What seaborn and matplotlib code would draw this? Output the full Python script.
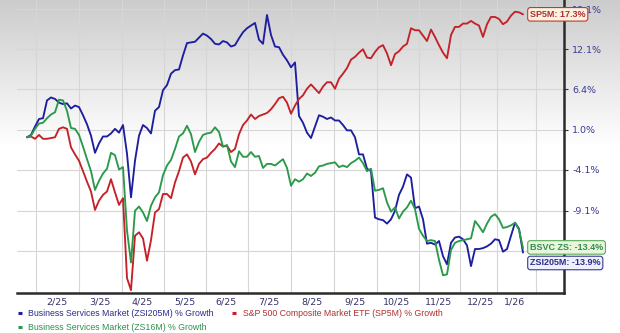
import numpy as np
import pandas as pd
import matplotlib
matplotlib.use("Agg")
import matplotlib.pyplot as plt
from matplotlib.lines import Line2D
import seaborn as sns

# ---------------- data (percent growth) ----------------
series_names = [
    "Business Services Market (ZSI205M) % Growth",
    "S&P 500 Composite Market ETF (SP5M) % Growth",
    "Business Services Market (ZS16M) % Growth",
]
blue_vals = [
    0.0, 0.3, 1.4, 2.4, 2.5, 4.9, 5.3, 5.1, 4.6, 4.4,
    4.5, 3.8, 4.2, 4.0, 2.9, 1.7, 0.2, -2.0, -0.8, 0.1,
    0.1, 0.5, 1.1, 0.6, 1.6, -2.1, -7.5, -3.0, 0.2, 1.6,
    1.2, 0.5, 3.5, 4.0, 6.3, 7.0, 8.6, 9.1, 9.2, 11.2,
    13.0, 13.1, 13.2, 13.8, 14.4, 14.1, 13.6, 12.9, 12.8, 13.3,
    13.1, 12.5, 12.7, 13.7, 14.6, 15.2, 15.6, 16.0, 13.5, 12.9,
    17.2, 14.2, 12.5, 12.4, 11.3, 10.5, 9.5, 10.2, 2.8, 1.9,
    0.6, -0.1, 1.4, 2.9, 2.7, 2.4, 2.6, 2.2, 2.2, 1.6,
    0.9, 0.9, 0.0, -2.2, -2.2, -4.0, -4.3, -9.9, -10.1, -10.2,
    -10.6, -10.1, -9.1, -7.2, -6.2, -4.7, -5.1, -8.8, -8.6, -10.1,
    -12.9, -12.8, -13.0, -12.6, -14.3, -15.2, -12.8, -12.2, -12.1, -12.4,
    -13.1, -15.4, -13.5, -13.5, -13.4, -13.2, -12.9, -12.4, -12.5, -13.8,
    -13.5, -12.0, -10.5, -11.2, -13.9,
]
red_vals = [
    0.0, 0.1, -0.2, 0.3, -0.2, -0.2, -0.1, 0.0, 1.1, 1.3,
    1.1, -1.3, -2.2, -3.0, -4.3, -5.6, -6.8, -9.0, -7.9, -7.2,
    -6.8, -5.3, -6.9, -8.4, -7.6, -16.7, -18.0, -12.0, -11.6, -12.3,
    -14.8, -12.5, -9.3, -8.9, -7.1, -7.1, -7.6, -5.7, -4.3, -2.6,
    -2.2, -3.1, -4.7, -3.4, -2.8, -2.6, -2.0, -1.5, -0.8, -1.2,
    -1.1, -1.9, -1.5, 0.4, 1.6, 2.2, 3.0, 2.4, 2.8, 3.0,
    3.2, 3.7, 4.4, 5.2, 5.4, 4.6, 3.1, 4.2, 5.1, 5.6,
    6.5, 7.1, 6.5, 5.9, 6.8, 7.4, 7.4, 6.5, 7.9, 8.6,
    9.4, 10.6, 11.0, 11.6, 12.1, 10.9, 10.8, 11.7, 12.4, 12.7,
    11.5, 9.8, 11.4, 11.8, 12.5, 12.9, 15.2, 14.9, 14.9, 14.1,
    13.3, 15.0, 13.9, 12.7, 11.6, 10.8, 14.2, 15.4, 15.4, 15.9,
    15.9, 16.3, 15.9, 15.6, 13.9, 15.8, 16.9, 16.9, 16.6, 15.8,
    16.2, 17.1, 17.7, 17.6, 17.3,
]
green_vals = [
    0.0, 0.2, 1.1, 1.8, 1.9, 2.5, 3.0, 3.3, 5.0, 4.9,
    3.5, 1.2, 1.1, 0.3, -1.2, -2.8, -4.3, -6.6, -5.5, -4.6,
    -4.0, -2.0, -2.3, -4.1, -3.8, -11.4, -15.0, -9.1, -8.6, -9.3,
    -10.3, -8.5, -7.5, -6.9, -4.8, -3.6, -2.9, -1.5, 0.1, 0.5,
    1.5, 0.4, -1.9, -0.6, 0.3, 0.5, 0.6, 1.3, 0.7, -1.2,
    -1.0, -3.1, -3.8, -1.8, -2.5, -2.5, -1.9, -2.5, -2.4, -3.9,
    -3.4, -3.4, -3.6, -3.2, -2.8, -3.9, -6.1, -5.3, -5.6, -5.3,
    -4.6, -4.9, -4.5, -3.7, -3.6, -3.4, -3.3, -3.2, -3.8, -3.6,
    -3.8, -3.3, -3.0, -2.6, -3.3, -4.3, -4.0, -6.7, -6.6, -6.4,
    -8.1, -9.2, -8.7, -10.0, -9.2, -8.7, -7.9, -8.9, -11.2, -12.0,
    -12.6, -12.5, -12.6, -14.7, -16.4, -16.3, -13.6, -12.8, -12.6, -12.5,
    -12.4, -12.3, -10.3, -10.9, -11.6, -10.6, -9.8, -9.5, -10.1, -11.1,
    -11.0, -10.8, -10.5, -11.3, -13.4,
]
end_tags = ["ZSI205M", "SP5M", "BSVC ZS"]
month_labels = ["2/25", "3/25", "4/25", "5/25", "6/25", "7/25",
                "8/25", "9/25", "10/25", "11/25", "12/25", "1/26"]
y_tick_values = [-13.7, -9.1, -4.1, 1.0, 6.4, 12.1, 18.1]
y_tick_labels = ["", "-9.1%", "-4.1%", "1.0%", "6.4%", "12.1%", "18.1%"]

colors = ["#1e1ea0", "#c42228", "#2a9a4a"]
text_colors = ["#2c2c8c", "#b03030", "#2f8f4f"]
box_faces = ["#eef0fb", "#fdf1e0", "#e9f5dc"]
box_edges = ["#3a3a99", "#c0392b", "#5aaa5a"]

# ---------------- layout helpers (pixel based) ----------------
W, H = 620, 333
px0, dpx = 27, 4.0                      # first sample pixel and spacing
def px_to_idx(p):
    return (p - px0) / dpx

month_grid_px = [36, 79, 122, 164, 206, 248, 291, 334, 377, 419, 460, 497, 536]
month_label_px = [57, 100, 142, 185, 226, 269, 312, 355, 397, 439, 481, 515]

n = len(blue_vals)
df = pd.DataFrame({
    "idx": np.tile(np.arange(n), 3),
    "growth": blue_vals + red_vals + green_vals,
    "series": np.repeat(series_names, n),
})

sns.set_theme(style="white")
plt.rcParams["font.family"] = ["DejaVu Sans"]

fig = plt.figure(figsize=(W / 100, H / 100), dpi=100)

# gradient background over whole figure
bg = fig.add_axes([0, 0, 1, 1], zorder=0)
rows = np.arange(H)
shade = np.where(rows < 145, 0.80 + (1.0 - 0.80) * rows / 145.0, 1.0)
img = np.repeat(shade[:, None, None], 3, axis=2)
bg.imshow(img, aspect="auto", extent=[0, 1, 0, 1], transform=bg.transAxes)
bg.set_axis_off()

ax_left, ax_right, ax_bottom_px, ax_top_px = 17, 564, 293, 0
ax = fig.add_axes([ax_left / W, 1 - ax_bottom_px / H,
                   (ax_right - ax_left) / W, (ax_bottom_px - ax_top_px) / H],
                  zorder=1)
ax.set_facecolor("none")

ax.set_yscale("function",
              functions=(lambda v: np.log1p(np.asarray(v) / 100.0),
                         lambda u: 100.0 * np.expm1(np.asarray(u))))

sns.lineplot(data=df, x="idx", y="growth", hue="series", palette=colors,
             hue_order=series_names, linewidth=1.35, ax=ax, legend=False,
             zorder=3)

ax.set_xlim(px_to_idx(ax_left), px_to_idx(ax_right))
ax.set_ylim(-18.3, 19.5)

# x axis: labels mid-month, grid at month boundaries
ax.set_xticks([px_to_idx(p) for p in month_label_px])
ax.set_xticklabels(month_labels)
ax.set_xticks([px_to_idx(p) for p in month_grid_px], minor=True)
ax.tick_params(axis="x", which="both", length=0, pad=3, labelsize=6.8,
               labelcolor="#34346a")
ax.set_xlabel("")
ax.set_ylabel("")

# y axis on right
ax.yaxis.tick_right()
ax.set_yticks(y_tick_values)
ax.set_yticklabels(y_tick_labels)
ax.yaxis.set_minor_locator(matplotlib.ticker.NullLocator())
ax.tick_params(axis="y", which="major", length=3, width=0.8, color="#333333",
               pad=3, labelsize=6.8, labelcolor="#3a3a96", right=True, left=False)

ax.grid(False)
ax.grid(which="minor", axis="x", color="#d6d6d6", linewidth=0.8)
ax.grid(which="major", axis="y", color="#d6d6d6", linewidth=0.8)

for side in ["left", "top"]:
    ax.spines[side].set_visible(False)
for side in ["right", "bottom"]:
    ax.spines[side].set_visible(True)
    ax.spines[side].set_color("#2b2b2b")
    ax.spines[side].set_linewidth(1.8)

# end-of-line tags
last_vals = [blue_vals[-1], red_vals[-1], green_vals[-1]]
offsets = [-7.5, 0.0, 0.5]
for i in range(3):
    ax.annotate(f"{end_tags[i]}: {last_vals[i]:.1f}%",
                xy=(n - 1, last_vals[i]), xytext=(5, offsets[i]),
                textcoords="offset points", ha="left", va="center",
                fontsize=6.5, color=text_colors[i], family="Liberation Sans",
                fontweight="bold",
                bbox=dict(boxstyle="round,pad=0.25,rounding_size=0.3",
                          fc=box_faces[i], ec=box_edges[i], lw=0.8),
                annotation_clip=False, zorder=10)

# legend below
handles = [Line2D([0], [0], color=colors[i], lw=2.2, solid_capstyle="butt")
           for i in range(3)]
order = [0, 2, 1]
leg = fig.legend([handles[i] for i in order], [series_names[i] for i in order],
                 loc="upper left", bbox_to_anchor=(18 / W, 1 - 309 / H),
                 ncol=2, frameon=False, handlelength=0.45,
                 handletextpad=0.75, columnspacing=2.1, labelspacing=0.6,
                 borderpad=0, borderaxespad=0,
                 prop={"family": "Liberation Sans", "size": 6.3})
for txt, i in zip(leg.get_texts(), order):
    txt.set_color(text_colors[i])

fig.savefig("out.png", dpi=100)
